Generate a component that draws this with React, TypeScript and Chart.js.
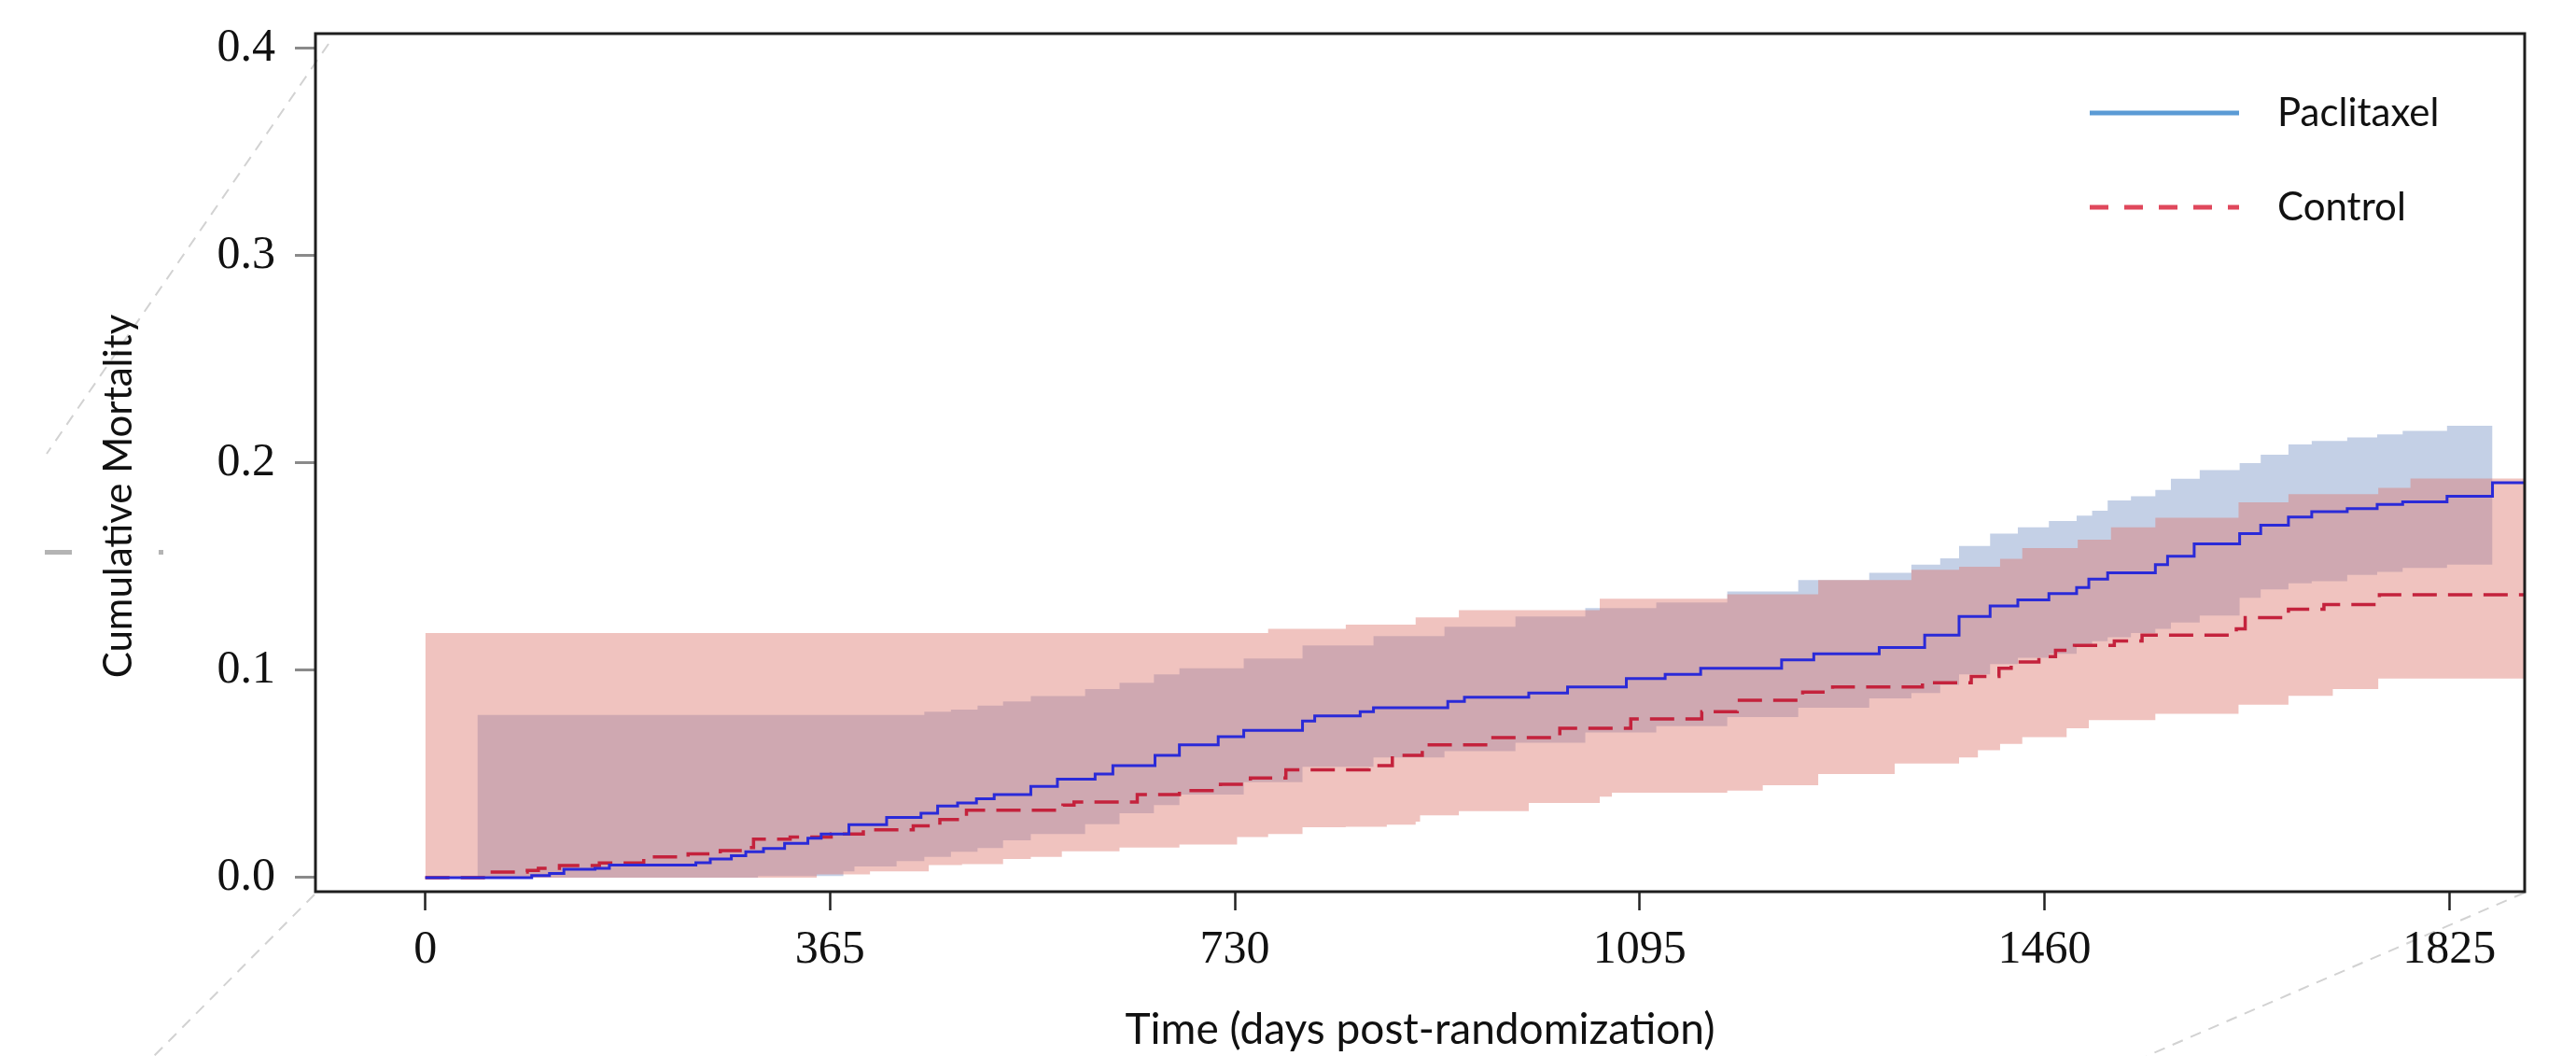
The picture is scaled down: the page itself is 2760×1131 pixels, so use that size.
import React, { useEffect, useRef } from 'react';
import { Chart, registerables } from 'chart.js';

Chart.register(...registerables);

// ---------- axis ticks ----------
const xTicks = [0, 365, 730, 1095, 1460, 1825];
const yTicks = [0, 0.1, 0.2, 0.3, 0.4];

// ---------- Paclitaxel Kaplan-Meier cumulative mortality (step starts at day) ----------
const paxDays = [0, 96, 112, 125, 153, 166, 244, 257, 276, 289, 305, 324, 345, 357, 382, 416, 447, 462, 480, 497, 513, 546, 570, 604, 620, 658, 680, 715, 738, 791, 802, 843, 855, 922, 937, 995, 1030, 1083, 1118, 1150, 1223, 1252, 1311, 1352, 1383, 1411, 1436, 1464, 1489, 1500, 1517, 1560, 1571, 1595, 1636, 1655, 1680, 1701, 1733, 1760, 1783, 1823, 1864, 1895];
const paxCum = [0, 0.001, 0.002, 0.004, 0.0045, 0.006, 0.0072, 0.009, 0.0105, 0.0125, 0.014, 0.0165, 0.019, 0.021, 0.0255, 0.029, 0.031, 0.0345, 0.036, 0.038, 0.04, 0.044, 0.0475, 0.05, 0.054, 0.059, 0.064, 0.068, 0.071, 0.0755, 0.078, 0.08, 0.082, 0.085, 0.087, 0.089, 0.092, 0.096, 0.098, 0.101, 0.105, 0.108, 0.111, 0.117, 0.126, 0.131, 0.134, 0.137, 0.14, 0.144, 0.147, 0.151, 0.155, 0.161, 0.166, 0.17, 0.174, 0.1765, 0.178, 0.18, 0.1813, 0.184, 0.1905, 0.1905];

// ---------- Control Kaplan-Meier cumulative mortality ----------
const ctrlDays = [0, 54, 92, 102, 121, 157, 197, 237, 266, 289, 296, 329, 366, 395, 440, 464, 488, 575, 585, 642, 680, 717, 744, 776, 851, 872, 899, 958, 1023, 1087, 1151, 1183, 1242, 1269, 1350, 1394, 1419, 1430, 1455, 1470, 1487, 1523, 1548, 1633, 1641, 1680, 1712, 1762, 1895];
const ctrlCum = [0, 0.0027, 0.0035, 0.0045, 0.0058, 0.007, 0.01, 0.0115, 0.013, 0.0145, 0.0185, 0.0196, 0.021, 0.023, 0.025, 0.028, 0.0325, 0.035, 0.0365, 0.04, 0.042, 0.045, 0.048, 0.052, 0.054, 0.059, 0.064, 0.0675, 0.072, 0.0765, 0.08, 0.0855, 0.0895, 0.092, 0.094, 0.097, 0.101, 0.104, 0.1066, 0.1097, 0.112, 0.1142, 0.117, 0.12, 0.1254, 0.1295, 0.1317, 0.1364, 0.1364];

// ---------- Paclitaxel 95% confidence band ----------
const paxBandDays = [47, 300, 377, 387, 425, 450, 474, 498, 521, 546, 595, 626, 657, 680, 738, 791, 855, 919, 983, 1046, 1110, 1174, 1238, 1302, 1340, 1366, 1383, 1411, 1436, 1464, 1489, 1503, 1517, 1538, 1560, 1574, 1600, 1636, 1655, 1680, 1701, 1733, 1760, 1783, 1823, 1864];
const paxLower = [0, 0.0008, 0.003, 0.0054, 0.008, 0.01, 0.0125, 0.0143, 0.018, 0.021, 0.0257, 0.031, 0.035, 0.04, 0.046, 0.0535, 0.058, 0.061, 0.065, 0.07, 0.073, 0.0774, 0.082, 0.0864, 0.089, 0.093, 0.098, 0.103, 0.106, 0.108, 0.112, 0.114, 0.116, 0.118, 0.12, 0.123, 0.1264, 0.135, 0.139, 0.142, 0.143, 0.146, 0.1475, 0.1494, 0.151, 0.151];
const paxUpper = [0.0785, 0.0785, 0.0785, 0.0785, 0.0785, 0.08, 0.081, 0.083, 0.085, 0.0876, 0.091, 0.094, 0.098, 0.101, 0.1057, 0.112, 0.1165, 0.121, 0.126, 0.13, 0.1327, 0.138, 0.1435, 0.147, 0.151, 0.154, 0.16, 0.166, 0.169, 0.172, 0.1746, 0.177, 0.182, 0.184, 0.187, 0.1924, 0.1966, 0.2, 0.204, 0.209, 0.2107, 0.2124, 0.2138, 0.2155, 0.218, 0.218];

// ---------- Control 95% confidence band ----------
const ctrlBandDays = [0, 353, 401, 454, 484, 521, 546, 574, 626, 680, 732, 760, 791, 830, 867, 893, 897, 932, 995, 1059, 1070, 1174, 1206, 1256, 1325, 1340, 1383, 1400, 1420, 1440, 1480, 1490, 1500, 1520, 1560, 1635, 1680, 1720, 1761, 1790, 1895];
const ctrlLower = [0, 0.0015, 0.003, 0.006, 0.0065, 0.009, 0.01, 0.0127, 0.0145, 0.016, 0.0196, 0.021, 0.0243, 0.0245, 0.0255, 0.027, 0.03, 0.032, 0.036, 0.039, 0.041, 0.042, 0.0445, 0.05, 0.055, 0.055, 0.058, 0.0614, 0.0645, 0.0677, 0.072, 0.072, 0.076, 0.076, 0.079, 0.0834, 0.0877, 0.091, 0.096, 0.096, 0.096];
const ctrlUpper = [0.118, 0.118, 0.118, 0.118, 0.118, 0.118, 0.118, 0.118, 0.118, 0.118, 0.118, 0.12, 0.12, 0.122, 0.122, 0.1255, 0.1255, 0.129, 0.129, 0.1345, 0.1345, 0.1367, 0.1367, 0.1435, 0.1435, 0.1485, 0.15, 0.15, 0.1538, 0.159, 0.159, 0.163, 0.163, 0.169, 0.1736, 0.181, 0.185, 0.185, 0.188, 0.1925, 0.1925];

const seriesNames = ['Paclitaxel', 'Control'];

const toPts = (xs: number[], ys: number[]) => xs.map((x, i) => ({ x, y: ys[i] }));

const framePlugin = {
  id: 'frame',
  afterDatasetsDraw(chart: any) {
    const { ctx, chartArea: a } = chart;
    ctx.save();
    ctx.strokeStyle = '#1e1e1e';
    ctx.lineWidth = 3;
    ctx.setLineDash([]);
    ctx.strokeRect(a.left, a.top, a.right - a.left, a.bottom - a.top);
    ctx.restore();
  },
};

const decorPlugin = {
  id: 'decor',
  beforeDraw(chart: any) {
    const { ctx, chartArea: a, width, height } = chart;
    ctx.save();
    ctx.strokeStyle = '#d2d2d2';
    ctx.lineWidth = 2;
    ctx.setLineDash([12, 9]);
    ctx.beginPath();
    ctx.moveTo(a.left + 14, a.top + 11);
    ctx.lineTo(50, 486);
    ctx.moveTo(a.left - 1, a.bottom + 3);
    ctx.lineTo(165, height);
    ctx.moveTo(a.right, a.bottom + 1);
    ctx.lineTo(width - 460, height);
    ctx.stroke();
    ctx.setLineDash([]);
    ctx.fillStyle = '#b4b4b4';
    ctx.fillRect(48, 589, 29, 5);
    ctx.fillRect(170, 589, 5, 5);
    ctx.restore();
  },
};

const yTitlePlugin = {
  id: 'ytitle',
  afterDraw(chart: any) {
    const { ctx, chartArea: a } = chart;
    ctx.save();
    ctx.translate(a.left - 211, (a.top + a.bottom) / 2 + 36);
    ctx.rotate(-Math.PI / 2);
    ctx.font = '42px Lato';
    ctx.fillStyle = '#111';
    ctx.textAlign = 'center';
    ctx.textBaseline = 'middle';
    ctx.fillText('Cumulative Mortality', 0, 0);
    ctx.restore();
  },
};

const legendPlugin = {
  id: 'customLegend',
  afterDraw(chart: any) {
    const { ctx, chartArea: a } = chart;
    const x0 = a.right - 466;
    const x1 = a.right - 306;
    const tx = a.right - 265;
    const rows = [
      { y: a.top + 85, color: '#5b9bd5', dash: [] as number[] },
      { y: a.top + 186, color: '#e0485c', dash: [20, 17] },
    ];
    ctx.save();
    rows.forEach((r, i) => {
      ctx.strokeStyle = r.color;
      ctx.lineWidth = 5;
      ctx.setLineDash(r.dash);
      ctx.beginPath();
      ctx.moveTo(x0, r.y);
      ctx.lineTo(x1, r.y);
      ctx.stroke();
      ctx.setLineDash([]);
      ctx.font = '42px Lato';
      ctx.fillStyle = '#111';
      ctx.textAlign = 'left';
      ctx.textBaseline = 'middle';
      ctx.fillText(seriesNames[i], tx, r.y);
    });
    ctx.restore();
  },
};

export default function App() {
  const ref = useRef<HTMLCanvasElement>(null);

  useEffect(() => {
    const canvas = ref.current;
    if (!canvas) return;
    const redBand = 'rgba(221,119,110,0.44)';
    const blueBand = 'rgba(108,138,192,0.4)';
    const chart = new Chart(canvas, {
      type: 'line',
      data: {
        datasets: [
          {
            label: seriesNames[0],
            data: toPts(paxDays, paxCum),
            borderColor: '#2a2ad8',
            borderWidth: 3,
            stepped: true,
            pointRadius: 0,
            fill: false,
          },
          {
            label: seriesNames[1],
            data: toPts(ctrlDays, ctrlCum),
            borderColor: '#c4223c',
            borderWidth: 3.5,
            borderDash: [26, 12],
            stepped: true,
            pointRadius: 0,
            fill: false,
          },
          {
            label: 'Control upper',
            data: toPts(ctrlBandDays, ctrlUpper),
            borderColor: 'rgba(0,0,0,0)',
            borderWidth: 0,
            stepped: true,
            pointRadius: 0,
            fill: { target: '+1', above: redBand, below: redBand },
          },
          {
            label: 'Control lower',
            data: toPts(ctrlBandDays, ctrlLower),
            borderColor: 'rgba(0,0,0,0)',
            borderWidth: 0,
            stepped: true,
            pointRadius: 0,
            fill: false,
          },
          {
            label: 'Paclitaxel upper',
            data: toPts(paxBandDays, paxUpper),
            borderColor: 'rgba(0,0,0,0)',
            borderWidth: 0,
            stepped: true,
            pointRadius: 0,
            fill: { target: '+1', above: blueBand, below: blueBand },
          },
          {
            label: 'Paclitaxel lower',
            data: toPts(paxBandDays, paxLower),
            borderColor: 'rgba(0,0,0,0)',
            borderWidth: 0,
            stepped: true,
            pointRadius: 0,
            fill: false,
          },
        ],
      },
      options: {
        animation: false,
        responsive: false,
        devicePixelRatio: 1,
        layout: { padding: { top: 36, right: 55, bottom: 0, left: 0 } },
        plugins: {
          legend: { display: false },
          tooltip: { enabled: false },
        },
        scales: {
          x: {
            type: 'linear',
            min: -99,
            max: 1893,
            afterBuildTicks: (s: any) => {
              s.ticks = xTicks.map((v) => ({ value: v }));
            },
            afterFit: (s: any) => {
              s.height = 176;
              s.paddingLeft = 0;
              s.paddingRight = 0;
            },
            grid: {
              drawOnChartArea: false,
              drawTicks: true,
              tickLength: 20,
              tickColor: '#222',
              tickWidth: 2.5,
            },
            border: { display: false },
            ticks: {
              autoSkip: false,
              maxRotation: 0,
              padding: 13,
              color: '#111',
              font: { family: "'Liberation Serif', serif", size: 50 },
              callback: (v: any) => String(v),
            },
            title: {
              display: true,
              text: 'Time (days post-randomization)',
              color: '#111',
              font: { family: 'Lato', size: 46 },
              padding: { top: 0, bottom: 0 },
            },
          },
          y: {
            type: 'linear',
            min: -0.0068,
            max: 0.4072,
            afterBuildTicks: (s: any) => {
              s.ticks = yTicks.map((v) => ({ value: v }));
            },
            afterFit: (s: any) => {
              s.width = 338;
              s.paddingTop = 0;
              s.paddingBottom = 0;
            },
            grid: {
              drawOnChartArea: false,
              drawTicks: true,
              tickLength: 22,
              tickColor: '#8a8a8a',
              tickWidth: 3,
            },
            border: { display: false },
            ticks: {
              padding: 21,
              color: '#111',
              font: { family: "'Liberation Serif', serif", size: 50 },
              callback: (v: any) => Number(v).toFixed(1),
            },
          },
        },
      },
      plugins: [decorPlugin, framePlugin, yTitlePlugin, legendPlugin],
    } as any);
    return () => chart.destroy();
  }, []);

  return (
    <div style={{ position: 'fixed', left: 0, top: 0, width: 2760, height: 1131, background: '#fff' }}>
      <canvas ref={ref} width={2760} height={1131} style={{ display: 'block', width: 2760, height: 1131 }} />
    </div>
  );
}
